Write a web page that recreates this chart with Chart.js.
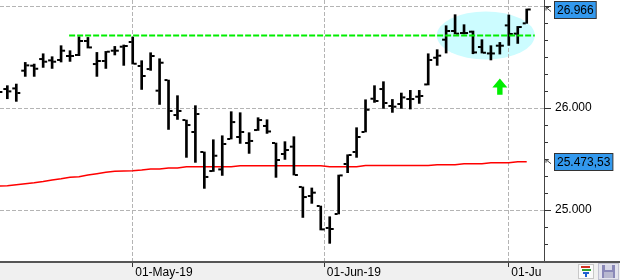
<!DOCTYPE html>
<html><head><meta charset="utf-8">
<script src="https://cdn.jsdelivr.net/npm/chart.js@4.4.1/dist/chart.umd.min.js"></script>
<style>html,body{margin:0;padding:0;background:#fff;overflow:hidden}#wrap{width:620px;height:280px;position:relative}</style>
</head><body><div id="wrap"><canvas id="c" width="620" height="280"></canvas></div>
<script>
const dates = ['2019-04-09','2019-04-10','2019-04-11','2019-04-12','2019-04-15','2019-04-16','2019-04-17','2019-04-18','2019-04-22','2019-04-23','2019-04-24','2019-04-25','2019-04-26','2019-04-29','2019-04-30',
 '2019-05-01','2019-05-02','2019-05-03','2019-05-06','2019-05-07','2019-05-08','2019-05-09','2019-05-10','2019-05-13','2019-05-14','2019-05-15','2019-05-16','2019-05-17','2019-05-20','2019-05-21','2019-05-22','2019-05-23','2019-05-24','2019-05-28','2019-05-29','2019-05-30','2019-05-31',
 '2019-06-03','2019-06-04','2019-06-05','2019-06-06','2019-06-07','2019-06-10','2019-06-11','2019-06-12','2019-06-13','2019-06-14','2019-06-17','2019-06-18','2019-06-19','2019-06-20','2019-06-21','2019-06-24','2019-06-25','2019-06-26','2019-06-27','2019-06-28',
 '2019-07-01','2019-07-02','2019-07-03'];
const openP  = [26250,26186,26192,26366,26415,26480,26467,26471,26510,26520,26657,26431,26461,26562,26601,
 26647,26412,26382,26170,26274,25931,25882,25765,25569,25382,25398,25696,25716,25657,25784,25824,25657,25549,25621,25226,25137,25039,
 24824,24961,25451,25569,25765,26091,26186,26020,26039,26088,26111,26231,26493,26670,26755,26735,26748,26598,26535,26611,
 26810,26729,26830];
const highP  = [26260,26219,26235,26447,26431,26532,26503,26611,26562,26699,26692,26545,26555,26604,26618,
 26696,26464,26542,26483,26274,26121,25882,26023,25569,25689,25728,25964,25954,25758,25905,25885,25657,25670,25719,25226,25216,25039,
 24934,25343,25542,25807,26081,26219,26258,26084,26147,26173,26173,26532,26572,26807,26915,26817,26755,26670,26611,26643,
 26912,26800,26971];
const lowP   = [26110,26091,26065,26310,26310,26398,26388,26451,26457,26513,26588,26310,26388,26520,26418,
 26431,26182,26369,26035,25790,25888,25516,25467,25212,25378,25339,25696,25653,25555,25780,25751,25320,25496,25343,24927,25065,24804,
 24673,24961,25366,25516,25765,26055,25996,25957,25996,25990,26045,26226,26418,26539,26726,26726,26532,26539,26471,26529,
 26614,26633,26830];
const closeP = [26157,26163,26147,26418,26385,26454,26454,26562,26510,26657,26594,26461,26552,26562,26608,
 26434,26314,26510,26444,25971,25971,25833,25941,25324,25532,25647,25862,25765,25677,25882,25770,25490,25588,25343,25127,25170,24810,
 24814,25339,25539,25716,25983,26069,26049,26013,26104,26088,26118,26471,26513,26755,26729,26735,26545,26542,26535,26611,
 26726,26794,26966];
const ma200  = [25236,25238,25248,25258,25268,25280,25294,25307,25322,25327,25343,25356,25369,25379,25382,
 25385,25392,25402,25402,25412,25412,25425,25425,25425,25425,25425,25425,25434,25434,25434,25434,25434,25434,25434,25434,25434,25434,
 25425,25425,25425,25425,25436,25436,25436,25436,25436,25436,25436,25436,25444,25444,25444,25454,25454,25454,25464,25464,
 25464,25473,25473.53];
const monthTickPos = [15, 36.4, 57];
const monthTickLabels = ['01-May-19','01-Jun-19','01-Jul-19'];
const yMajorTicks = [25000, 26000, 27000];
const yMajorLabels = ['25.000', '26.000', ''];
const resistanceX = [7.9, 59.9];
const resistanceY = [26712, 26712];
const highlightX = [48.96, 59.9];
const highlightY = [26476, 26946];
const arrowX = [56];
const arrowY = [26290, 26130];

function fmtEU(v, dec) {
  const fixed = v.toFixed(dec);
  const parts = fixed.split('.');
  const intp = parts[0].replace(/\B(?=(\d{3})+(?!\d))/g, '.');
  return parts.length > 1 ? intp + ',' + parts[1] : intp;
}
const lastClose = closeP[closeP.length - 1];
const lastMA = ma200[ma200.length - 1];

const yTickValues = [];
for (let k = 0; k <= 15; k++) yTickValues.push(24500 + k * 1000 / 6);
const isMajor = v => Math.abs(v / 1000 - Math.round(v / 1000)) < 1e-6;

const FONT = '"Liberation Sans", Arial, sans-serif';
Chart.defaults.font.family = FONT;
Chart.defaults.font.size = 12;
Chart.defaults.color = '#000';

const decor = {
  id: 'decor',
  beforeDraw(chart) {
    const {ctx, width, height, scales: {x, y}} = chart;
    ctx.save();
    ctx.fillStyle = '#fff'; ctx.fillRect(0, 0, width, height);
    ctx.fillStyle = '#f0f0f0'; ctx.fillRect(0, 262, width, height - 262);
    const x1 = x.getPixelForValue(highlightX[0]), x2 = x.getPixelForValue(highlightX[1]);
    const y1 = y.getPixelForValue(highlightY[1]), y2 = y.getPixelForValue(highlightY[0]);
    ctx.beginPath();
    ctx.ellipse((x1 + x2) / 2, (y1 + y2) / 2, (x2 - x1) / 2, (y2 - y1) / 2, 0, 0, Math.PI * 2);
    ctx.fillStyle = '#ccfcff'; ctx.fill();
    ctx.restore();
  },
  afterDatasetsDraw(chart) {
    const {ctx, scales: {x, y}} = chart;
    const cx = x.getPixelForValue(arrowX[0]);
    const ty = y.getPixelForValue(arrowY[0]), by = y.getPixelForValue(arrowY[1]);
    ctx.save();
    ctx.fillStyle = '#00ee00';
    ctx.beginPath();
    ctx.moveTo(cx, ty); ctx.lineTo(cx + 7.5, ty + 9); ctx.lineTo(cx + 2.7, ty + 9);
    ctx.lineTo(cx + 2.7, by); ctx.lineTo(cx - 2.7, by); ctx.lineTo(cx - 2.7, ty + 9);
    ctx.lineTo(cx - 7.5, ty + 9); ctx.closePath(); ctx.fill();
    ctx.restore();
  },
  afterDraw(chart) {
    const {ctx, width, chartArea, scales: {x, y}} = chart;
    ctx.save();
    ctx.fillStyle = '#555'; ctx.fillRect(0, 261, width, 2);
    ctx.save();
    ctx.beginPath(); ctx.rect(0, 262, chartArea.right - 2, 18); ctx.clip();
    ctx.fillStyle = '#000'; ctx.font = '12px ' + FONT; ctx.textAlign = 'left'; ctx.textBaseline = 'alphabetic';
    monthTickPos.forEach((v, i) => ctx.fillText(monthTickLabels[i], x.getPixelForValue(v) + 2.5, 276));
    ctx.restore();
    ctx.strokeStyle = '#333'; ctx.lineWidth = 1;
    yMajorTicks.forEach(v => {
      const py = Math.round(y.getPixelForValue(v)) + 0.5;
      ctx.beginPath(); ctx.moveTo(chartArea.right, py); ctx.lineTo(chartArea.right + 7, py); ctx.stroke();
    });
    const boxes = [[lastClose, fmtEU(lastClose, 0)], [lastMA, fmtEU(lastMA, 2)]];
    ctx.font = '12px ' + FONT; ctx.textBaseline = 'middle'; ctx.textAlign = 'left';
    boxes.forEach(([v, t]) => {
      const py = y.getPixelForValue(v);
      const w = ctx.measureText(t).width + 5;
      const bx = chartArea.right + 10.5;
      ctx.fillStyle = '#3399ee';
      ctx.fillRect(bx, Math.round(py - 8.5) + 0.5, w, 17);
      ctx.strokeStyle = '#333'; ctx.lineWidth = 1;
      ctx.strokeRect(bx, Math.round(py - 8.5) + 0.5, w, 17);
      ctx.fillStyle = '#000';
      ctx.fillText(t, bx + 2.5, py + 1);
      const ax = chartArea.right + 2;
      ctx.strokeStyle = '#444';
      ctx.beginPath();
      ctx.moveTo(ax + 5, py + 2); ctx.lineTo(ax, py - 2);
      ctx.moveTo(ax, py - 2); ctx.lineTo(ax + 3, py - 2);
      ctx.moveTo(ax, py - 2); ctx.lineTo(ax, py + 1);
      ctx.stroke();
    });
    ctx.fillStyle = '#fafafa'; ctx.fillRect(578, 264, 16, 15);
    ctx.strokeStyle = '#c8c8c8'; ctx.strokeRect(578.5, 264.5, 15, 14);
    ctx.fillStyle = '#d03020'; ctx.fillRect(581, 266, 9, 2);
    ctx.fillStyle = '#30a030'; ctx.fillRect(582, 269, 9, 2);
    ctx.fillStyle = '#2060d0'; ctx.fillRect(583, 272, 6, 2);
    ctx.fillStyle = '#2060d0'; ctx.fillRect(585, 274, 2, 3);
    ctx.fillStyle = '#e4e4ee'; ctx.fillRect(598, 263, 21, 17);
    ctx.strokeStyle = '#c0c0d0'; ctx.strokeRect(598.5, 263.5, 20, 16);
    ctx.fillStyle = '#8a88b8'; ctx.fillRect(602, 265, 13, 13);
    ctx.fillStyle = '#d8d8e8'; ctx.fillRect(605, 265, 7, 5);
    ctx.fillStyle = '#b8b8d0'; ctx.fillRect(604, 272, 9, 6);
    ctx.restore();
  }
};

const barData = dates.map((d, i) => ({x: i, y: [lowP[i], highP[i]]}));
const openData = dates.map((d, i) => ({x: i - 0.28, y: openP[i]}));
const closeData = dates.map((d, i) => ({x: i + 0.28, y: closeP[i]}));
const maData = dates.map((d, i) => ({x: i, y: ma200[i]}));
const resData = resistanceX.map((v, i) => ({x: v, y: resistanceY[i]}));

new Chart(document.getElementById('c'), {
  type: 'bar',
  data: {
    datasets: [
      {type: 'line', label: 'Resistance', data: resData, borderColor: '#00ee00', borderWidth: 2, borderDash: [6, 2], pointRadius: 0, order: 0},
      {type: 'line', label: 'Open', data: openData, showLine: false, pointStyle: 'line', pointRadius: 1.5, pointBorderWidth: 2, pointBorderColor: '#000', pointBackgroundColor: '#000', order: 1},
      {type: 'line', label: 'Close', data: closeData, showLine: false, pointStyle: 'line', pointRadius: 1.5, pointBorderWidth: 2, pointBorderColor: '#000', pointBackgroundColor: '#000', order: 1},
      {type: 'bar', label: 'Range', data: barData, backgroundColor: '#000', borderWidth: 0, barThickness: 2, order: 2},
      {type: 'line', label: 'MA', data: maData, borderColor: '#ff0000', borderWidth: 1.5, pointRadius: 0, tension: 0, order: 3}
    ]
  },
  options: {
    responsive: false,
    animation: false,
    events: [],
    layout: {padding: 0, autoPadding: false},
    plugins: {legend: {display: false}, tooltip: {enabled: false}},
    scales: {
      x: {
        type: 'linear', min: 0.18, max: 60.93, offset: false,
        afterBuildTicks: s => { s.ticks = monthTickPos.map(v => ({value: v})); },
        afterFit: s => { s.height = 19; s.paddingLeft = 0; s.paddingRight = 0; },
        ticks: {display: false},
        grid: {color: '#b4b4b4', lineWidth: 1, tickColor: '#333', tickLength: 6, offset: false},
        border: {display: false, dash: [4, 2]}
      },
      y: {
        type: 'linear', position: 'right', min: 24500, max: 27059,
        afterBuildTicks: s => { s.ticks = yTickValues.map(v => ({value: v})); },
        afterFit: s => { s.width = 76; s.paddingTop = 0; s.paddingBottom = 0; },
        ticks: {
          autoSkip: false, padding: 7, color: '#000', font: {size: 12, family: FONT},
          callback: v => { const k = yMajorTicks.findIndex(m => Math.abs(m - v) < 1e-6); return k >= 0 ? yMajorLabels[k] : ''; }
        },
        grid: {
          color: c => (c.tick && isMajor(c.tick.value)) ? '#b4b4b4' : 'rgba(0,0,0,0)',
          lineWidth: 1, tickColor: '#333', tickLength: 4
        },
        border: {display: true, color: '#444', width: 1, dash: [4, 2]}
      }
    }
  },
  plugins: [decor]
});
</script>
</body></html>
